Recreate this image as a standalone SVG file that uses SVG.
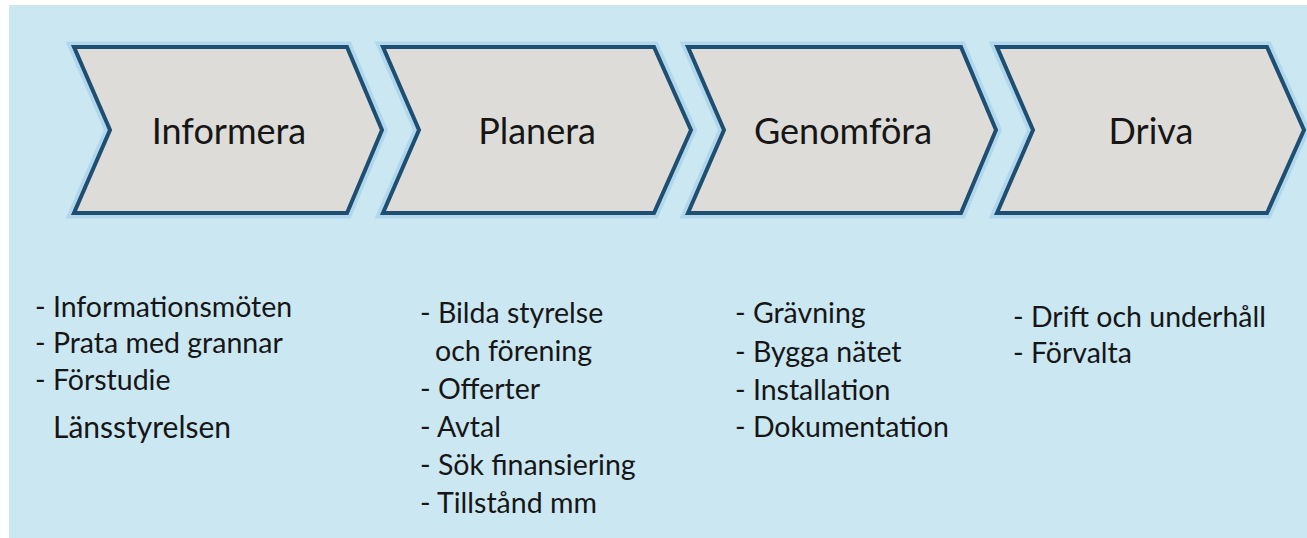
<svg xmlns="http://www.w3.org/2000/svg" width="1307" height="538" viewBox="0 0 1307 538">
<style>
.bg{fill:#cbe7f2}
.halo{fill:none;stroke:#a9d3ea;stroke-width:11;stroke-linejoin:miter;opacity:0.8}
.chev{fill:#dedcd8;stroke:#1e4f72;stroke-width:4;stroke-linejoin:miter}
.title{font-family:Lato,"Open Sans","Noto Sans",sans-serif;font-size:36px;fill:#161616;text-anchor:middle}
.item{font-family:Lato,"Open Sans","Noto Sans",sans-serif;font-size:28.5px;fill:#161616}
</style>
<rect x="0" y="0" width="1307" height="538" fill="#ffffff"/>
<rect class="bg" x="9" y="5" width="1298" height="533"/>
<g id="connectors"></g>
<g id="informera">
<polygon class="halo" points="74,47 347,47 382,130 347,213 74,213 110,130"/>
<polygon class="chev" points="74,47 347,47 382,130 347,213 74,213 110,130"/>
<text class="title" x="229" y="144">Informera</text>
</g>
<g id="planera">
<polygon class="halo" points="383,47 654,47 691,130 654,213 383,213 419,130"/>
<polygon class="chev" points="383,47 654,47 691,130 654,213 383,213 419,130"/>
<text class="title" x="537" y="144">Planera</text>
</g>
<g id="genomfora">
<polygon class="halo" points="688,47 961,47 996,130 961,213 688,213 724,130"/>
<polygon class="chev" points="688,47 961,47 996,130 961,213 688,213 724,130"/>
<text class="title" x="843" y="144">Genomföra</text>
</g>
<g id="driva">
<polygon class="halo" points="997,47 1267,47 1304,130 1267,213 997,213 1033,130"/>
<polygon class="chev" points="997,47 1267,47 1304,130 1267,213 997,213 1033,130"/>
<text class="title" x="1151" y="144">Driva</text>
</g>
<g id="list-informera">
<text class="item" x="35" y="317">- Informationsmöten</text>
<text class="item" x="35" y="353">- Prata med grannar</text>
<text class="item" x="35" y="390">- Förstudie</text>
<text class="item" x="53" y="438" style="font-size:30px">Länsstyrelsen</text>
</g>
<g id="list-planera">
<text class="item" x="420" y="323">- Bilda styrelse</text>
<text class="item" x="435" y="361">och förening</text>
<text class="item" x="420" y="399">- Offerter</text>
<text class="item" x="420" y="437">- Avtal</text>
<text class="item" x="420" y="475">- Sök finansiering</text>
<text class="item" x="420" y="513">- Tillstånd mm</text>
</g>
<g id="list-genomfora">
<text class="item" x="735" y="323">- Grävning</text>
<text class="item" x="735" y="362">- Bygga nätet</text>
<text class="item" x="735" y="400">- Installation</text>
<text class="item" x="735" y="437">- Dokumentation</text>
</g>
<g id="list-driva">
<text class="item" x="1013" y="327">- Drift och underhåll</text>
<text class="item" x="1013" y="363">- Förvalta</text>
</g>
</svg>
